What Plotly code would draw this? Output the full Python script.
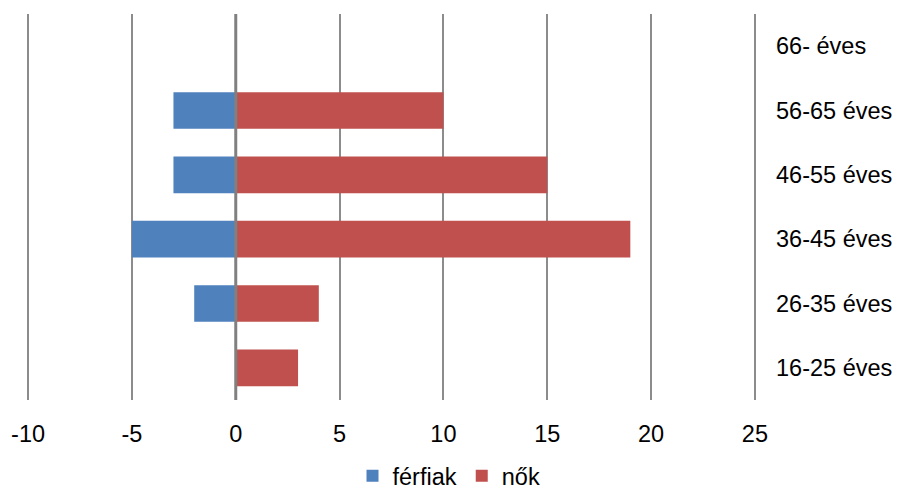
import plotly.graph_objects as go

# Age groups (bottom to top) and headcounts per sex
age_groups = ["16-25 éves", "26-35 éves", "36-45 éves", "46-55 éves", "56-65 éves", "66- éves"]
ferfiak = [0, -2, -5, -3, -3, 0]
nok = [3, 4, 19, 15, 10, 0]
x_ticks = [-10, -5, 0, 5, 10, 15, 20, 25]

BLUE = "#4F81BD"
RED = "#C0504D"
FONT = "Liberation Sans, Arial, sans-serif"

fig = go.Figure()
fig.add_trace(go.Bar(
    y=age_groups, x=ferfiak, name="férfiak", orientation="h",
    marker=dict(color=BLUE, line=dict(width=0)),
    width=0.57,
))
fig.add_trace(go.Bar(
    y=age_groups, x=nok, name="nők", orientation="h",
    marker=dict(color=RED, line=dict(width=0)),
    width=0.57,
))

# Zero axis drawn over the bars
fig.add_shape(type="line", xref="x", yref="paper", x0=0, x1=0, y0=0, y1=1,
              line=dict(color="#808080", width=3), layer="above")

fig.update_layout(
    width=898, height=489,
    barmode="relative",
    plot_bgcolor="white", paper_bgcolor="white",
    margin=dict(l=26, r=141, t=14, b=89, autoexpand=False),
    font=dict(family=FONT, size=23.5, color="#000000"),
    xaxis=dict(
        range=[-10.1, 25.1], tickvals=x_ticks, ticktext=[str(v) for v in x_ticks],
        showgrid=True, gridcolor="#8C8C8C", gridwidth=2,
        zeroline=False,
        showline=False, ticks="", ticklabelstandoff=17,
        automargin=False,
    ),
    yaxis=dict(
        type="category", side="right", showgrid=False, zeroline=False,
        showline=False, ticks="", ticklabelstandoff=18,
        automargin=False,
    ),
    legend=dict(
        orientation="h", x=0.5, xanchor="center", xref="container",
        y=(489 - 476) / 489, yanchor="middle", yref="container",
        itemsizing="constant", traceorder="normal",
    ),
    bargap=0.43,
)

fig.write_html("out.html")
